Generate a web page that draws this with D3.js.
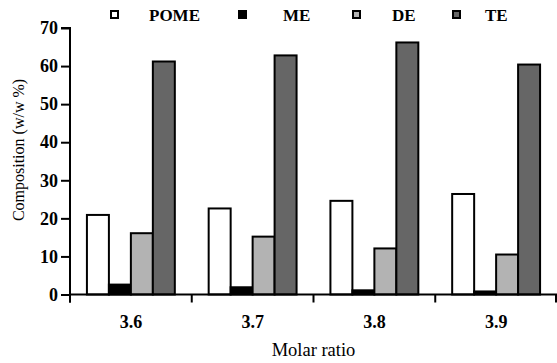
<!DOCTYPE html>
<html>
<head>
<meta charset="utf-8">
<script src="https://cdn.jsdelivr.net/npm/d3@7"></script>
<style>
  body { margin: 0; background: #fff; }
</style>
</head>
<body>
<div id="chart"></div>
<script>
const ratios = ['3.6', '3.7', '3.8', '3.9'];
const seriesNames = ['POME', 'ME', 'DE', 'TE'];
const pome = [20.9, 22.6, 24.6, 26.4];
const me = [2.6, 1.9, 1.1, 0.8];
const de = [16.1, 15.2, 12.1, 10.5];
const te = [61.2, 62.8, 66.2, 60.4];
const yTicks = [0, 10, 20, 30, 40, 50, 60, 70];

const colors = ['#ffffff', '#000000', '#b3b3b3', '#666666'];
const font = 'Liberation Serif';

const options = { width: 557, height: 363 };
const margin = { top: 28, right: 0, bottom: 68, left: 70 };

const table = ratios.map((r, i) => ({
  ratio: r,
  values: [pome[i], me[i], de[i], te[i]],
}));

const svg = d3.select('#chart')
  .append('svg')
  .attr('width', options.width)
  .attr('height', options.height)
  .attr('font-family', font);

const x0 = d3.scaleBand()
  .domain(ratios)
  .range([margin.left, options.width - margin.right]);

const x1 = d3.scaleBand()
  .domain(d3.range(seriesNames.length))
  .range([0, x0.bandwidth()])
  .paddingOuter(0.77);

const y = d3.scaleLinear()
  .domain([0, 70])
  .range([options.height - margin.bottom - 0.5, margin.top]);

// bars
const groups = svg.append('g')
  .selectAll('g')
  .data(table)
  .enter()
  .append('g')
  .attr('transform', d => `translate(${x0(d.ratio)},0)`);

groups.selectAll('rect')
  .data(d => d.values)
  .enter()
  .append('rect')
  .attr('x', (d, i) => x1(i))
  .attr('y', d => y(d))
  .attr('width', x1.bandwidth())
  .attr('height', d => y(0) - y(d))
  .attr('fill', (d, i) => colors[i])
  .attr('stroke', '#000')
  .attr('stroke-width', 2);

// y axis
const yAxis = svg.append('g')
  .attr('transform', `translate(${margin.left},0)`)
  .call(d3.axisLeft(y).tickValues(yTicks).tickSize(9).tickPadding(3))
  .attr('font-family', font);

// x axis (ticks at category boundaries)
const xAxis = svg.append('g')
  .attr('transform', `translate(0,${y(0)})`);

xAxis.append('line')
  .attr('x1', margin.left)
  .attr('x2', options.width)
  .attr('stroke', '#000')
  .attr('stroke-width', 2);

xAxis.selectAll('line.tick')
  .data(ratios.map(r => x0(r)).concat([x0.range()[1] - 1]))
  .enter()
  .append('line')
  .attr('class', 'tick')
  .attr('x1', d => d)
  .attr('x2', d => d)
  .attr('y1', 0)
  .attr('y2', 8)
  .attr('stroke', '#000')
  .attr('stroke-width', 2);

xAxis.selectAll('text')
  .data(ratios)
  .enter()
  .append('text')
  .attr('x', d => x0(d) + x0.bandwidth() / 2)
  .attr('y', 33)
  .attr('text-anchor', 'middle')
  .attr('font-size', 18)
  .attr('font-weight', 'bold')
  .attr('font-family', font)
  .text(d => d);

yAxis.select('.domain')
  .attr('stroke-width', 2)
  .attr('d', `M0,${y(0) + 8}V${y(70)}H-9`);
yAxis.selectAll('.tick line').attr('stroke-width', 2);
yAxis.selectAll('.tick text')
  .attr('font-size', 18)
  .attr('font-weight', 'bold')
  .attr('font-family', font)
  .attr('fill', '#000');

// axis titles
svg.append('text')
  .attr('x', (margin.left + options.width) / 2)
  .attr('y', 356)
  .attr('text-anchor', 'middle')
  .attr('font-size', 18.5)
  .attr('font-family', font)
  .text('Molar ratio');

svg.append('text')
  .attr('transform', 'translate(24,150) rotate(-90)')
  .attr('text-anchor', 'middle')
  .attr('font-size', 16)
  .attr('font-family', font)
  .text('Composition (w/w %)');

// legend
const legendX = [111, 239, 353, 453];
const legend = svg.append('g')
  .selectAll('g')
  .data(seriesNames)
  .enter()
  .append('g')
  .attr('transform', (d, i) => `translate(${legendX[i]},11)`);

legend.append('rect')
  .attr('width', 7)
  .attr('height', 7)
  .attr('fill', (d, i) => colors[i])
  .attr('stroke', '#000')
  .attr('stroke-width', 2);

legend.append('text')
  .attr('x', (d, i) => [38, 44, 39, 32][i])
  .attr('y', 10)
  .attr('font-size', 17)
  .attr('font-weight', 'bold')
  .attr('font-family', font)
  .text(d => d);
</script>
</body>
</html>
